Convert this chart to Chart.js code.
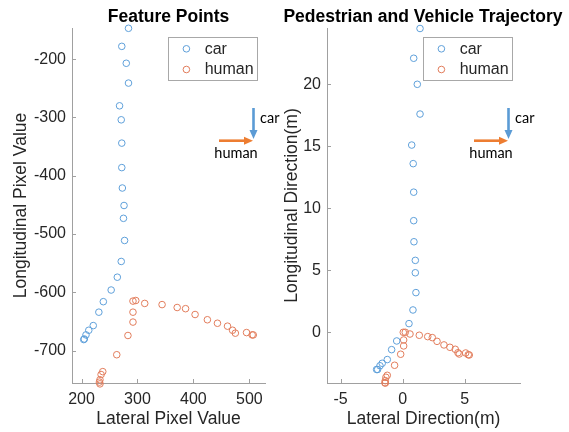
<!DOCTYPE html>
<html><head><meta charset="utf-8">
<script src="https://cdn.jsdelivr.net/npm/chart.js@4/dist/chart.umd.min.js"></script>
<style>
html,body{margin:0;padding:0;background:#fff;overflow:hidden;width:569px;height:432px;position:relative;}
canvas{position:absolute;top:0;}
#c1{left:0px}
#c2{left:276px}
</style></head><body>
<canvas id="c1" width="337" height="432"></canvas>
<canvas id="c2" width="294" height="432"></canvas>
<script>
// ---------------- data ----------------
const seriesNames = ['car', 'human'];

// Left panel: Feature Points (pixel coordinates)
const carPixelX = [284, 272, 280, 284, 268, 271, 272, 272, 273, 276, 275, 277, 271, 264, 253, 239, 231, 221, 213, 208, 204, 205];
const carPixelY = [-147, -178, -207, -241, -280, -304, -344, -386, -421, -451, -473, -511, -547, -574, -596, -616, -634, -657, -665, -673, -681, -680];
const humanPixelX = [233, 232, 233, 235, 238, 263, 283, 292, 292, 292, 297, 313, 344, 371, 386, 403, 425, 443, 461, 470, 475, 495, 505, 507];
const humanPixelY = [-757, -754, -750, -741, -736, -707, -674, -651, -634, -615, -614, -619, -621, -626, -628, -638, -647, -653, -658, -665, -670, -669, -673, -673];

// Right panel: trajectory in metres
const carMetreX = [1.40, 0.89, 1.18, 1.40, 0.73, 0.85, 0.89, 0.89, 0.91, 1.02, 1.02, 1.07, 0.83, 0.51, -0.48, -0.89, -1.24, -1.65, -1.83, -2.02, -2.10];
const carMetreY = [24.5, 22.1, 20.0, 17.6, 15.1, 13.6, 11.3, 9.0, 7.3, 5.8, 4.8, 3.2, 1.8, 0.7, -0.7, -1.4, -2.2, -2.5, -2.7, -3.0, -3.0];
const humanMetreX = [-1.40, -1.43, -1.40, -1.35, -1.24, -0.65, -0.16, 0.08, 0.08, 0.05, 0.21, 0.59, 1.34, 2.02, 2.39, 2.77, 3.33, 3.81, 4.24, 4.46, 4.56, 5.08, 5.29, 5.37];
const humanMetreY = [-4.10, -4.06, -3.90, -3.63, -3.47, -2.66, -1.77, -1.10, -0.62, 0.00, 0.00, -0.14, -0.24, -0.35, -0.43, -0.73, -1.02, -1.21, -1.37, -1.65, -1.75, -1.67, -1.81, -1.83];

// tick labels
const leftXTicks = [200, 300, 400, 500];
const leftYTicks = [-700, -600, -500, -400, -300, -200];
const rightXTicks = [-5, 0, 5];
const rightYTicks = [0, 5, 10, 15, 20];

// axis limits
const leftXRange = [183, 528];
const leftYRange = [-755.5, -146.5];
const rightXRange = [-6.10, 9.46];
const rightYRange = [-4.09, 24.54];

// ---------------- styling ----------------
const FONT = "'Liberation Sans', Arial, Helvetica, sans-serif";
const AXIS_COLOR = '#a0a0a0';
const TEXT_COLOR = '#262626';
const CAR_COLOR = 'rgb(95,160,218)';
const HUMAN_COLOR = 'rgb(226,125,92)';
Chart.defaults.font.family = FONT;
Chart.defaults.color = TEXT_COLOR;

function pts(xs, ys) { return xs.map((x, i) => ({x: x, y: ys[i]})); }

const inwardTicks = {
  id: 'inwardTicks',
  afterDraw(chart) {
    const ctx = chart.ctx, a = chart.chartArea, sx = chart.scales.x, sy = chart.scales.y;
    ctx.save();
    ctx.strokeStyle = AXIS_COLOR; ctx.lineWidth = 1;
    sx.ticks.forEach(t => {
      const px = Math.round(sx.getPixelForValue(t.value)) + 0.5;
      ctx.beginPath(); ctx.moveTo(px, a.bottom); ctx.lineTo(px, a.bottom - 4); ctx.stroke();
    });
    sy.ticks.forEach(t => {
      const py = Math.round(sy.getPixelForValue(t.value)) + 0.5;
      ctx.beginPath(); ctx.moveTo(a.left, py); ctx.lineTo(a.left + 4, py); ctx.stroke();
    });
    ctx.restore();
  }
};

const legendBox = {
  id: 'legendBox',
  afterDraw(chart) {
    const ctx = chart.ctx, a = chart.chartArea;
    const w = 89, h = 43;
    const x0 = Math.round(a.right - 8 - w), y0 = Math.round(a.top + 8.5);
    ctx.save();
    ctx.fillStyle = '#fff';
    ctx.fillRect(x0, y0, w, h);
    ctx.strokeStyle = '#a8a8a8'; ctx.lineWidth = 1;
    ctx.strokeRect(x0 + 0.5, y0 + 0.5, w, h);
    chart.data.datasets.forEach((ds, i) => {
      const cy = y0 + 11.8 + i * 20.7;
      ctx.beginPath(); ctx.arc(x0 + 18.4, cy, 3.3, 0, Math.PI * 2);
      ctx.strokeStyle = ds.borderColor; ctx.lineWidth = 1; ctx.stroke();
      ctx.fillStyle = TEXT_COLOR; ctx.font = '16px ' + FONT;
      ctx.textAlign = 'left'; ctx.textBaseline = 'middle';
      ctx.fillText(ds.label, x0 + 36.7, cy + 0.5);
    });
    ctx.restore();
  }
};

function arrow(ctx, x1, y1, x2, y2, color) {
  const ang = Math.atan2(y2 - y1, x2 - x1), hl = 9, hw = 4;
  const bx = x2 - hl * Math.cos(ang), by = y2 - hl * Math.sin(ang);
  ctx.strokeStyle = color; ctx.fillStyle = color; ctx.lineWidth = 2.6;
  ctx.beginPath(); ctx.moveTo(x1, y1); ctx.lineTo(bx, by); ctx.stroke();
  ctx.beginPath();
  ctx.moveTo(x2, y2);
  ctx.lineTo(bx + hw * Math.sin(ang), by - hw * Math.cos(ang));
  ctx.lineTo(bx - hw * Math.sin(ang), by + hw * Math.cos(ang));
  ctx.closePath(); ctx.fill();
}

const directionNote = {
  id: 'directionNote',
  afterDraw(chart) {
    const ctx = chart.ctx, a = chart.chartArea, r = a.right, t = a.top;
    ctx.save();
    arrow(ctx, r - 11.5, t + 80, r - 11.5, t + 111, '#5B9BD5');
    arrow(ctx, r - 46, t + 112.7, r - 12, t + 112.7, '#ED7D31');
    ctx.fillStyle = '#000';
    ctx.font = "14.5px Lato, 'Open Sans', sans-serif";
    ctx.textBaseline = 'middle';
    ctx.textAlign = 'left';
    ctx.fillText(seriesNames[0], r - 5, t + 90);
    ctx.textAlign = 'center';
    ctx.fillText(seriesNames[1], r - 29, t + 125);
    ctx.restore();
  }
};

function makeChart(id, title, xTitle, yTitle, carPts, humanPts, xr, yr, xt, yt, yAxisW, rightW, yTitlePad) {
  return new Chart(document.getElementById(id), {
    type: 'scatter',
    data: {
      datasets: [
        {label: seriesNames[0], data: carPts, borderColor: CAR_COLOR, backgroundColor: 'rgba(0,0,0,0)',
         pointRadius: 3.3, pointBorderWidth: 1, pointHoverRadius: 3.3, clip: false},
        {label: seriesNames[1], data: humanPts, borderColor: HUMAN_COLOR, backgroundColor: 'rgba(0,0,0,0)',
         pointRadius: 3.3, pointBorderWidth: 1, pointHoverRadius: 3.3, clip: false}
      ]
    },
    options: {
      responsive: false, animation: false, events: [],
      layout: {padding: 0},
      plugins: {
        legend: {display: false}, tooltip: {enabled: false},
        title: {display: true, text: title, color: '#000',
                font: {size: 17.5, weight: 'bold', family: FONT}, padding: {top: 7, bottom: 0}}
      },
      scales: {
        x: {
          type: 'linear', min: xr[0], max: xr[1],
          afterBuildTicks: s => { s.ticks = xt.map(v => ({value: v})); },
          afterFit: s => { s.height = 49; },
          grid: {display: true, drawOnChartArea: false, drawTicks: false},
          border: {display: true, color: AXIS_COLOR, width: 1},
          ticks: {padding: 7, color: TEXT_COLOR, font: {size: 16}},
          title: {display: true, text: xTitle, color: TEXT_COLOR, font: {size: 17.5}, padding: {top: 0, bottom: 2.5}}
        },
        y: {
          type: 'linear', min: yr[0], max: yr[1],
          afterBuildTicks: s => { s.ticks = yt.map(v => ({value: v})); },
          afterFit: s => { s.width = yAxisW; },
          grid: {display: true, drawOnChartArea: false, drawTicks: false},
          border: {display: true, color: AXIS_COLOR, width: 1},
          ticks: {padding: 6, color: TEXT_COLOR, font: {size: 16}},
          title: {display: true, text: yTitle, color: TEXT_COLOR, font: {size: 17.5}, padding: {top: yTitlePad, bottom: 0}}
        },
        spacer: {
          type: 'linear', position: 'right', axis: 'y', min: 0, max: 1,
          afterFit: s => { s.width = rightW; },
          grid: {display: false}, border: {display: false},
          ticks: {display: false}
        }
      }
    },
    plugins: [inwardTicks, legendBox, directionNote]
  });
}

makeChart('c1', 'Feature Points', 'Lateral Pixel Value', 'Longitudinal Pixel Value',
  pts(carPixelX, carPixelY), pts(humanPixelX, humanPixelY),
  leftXRange, leftYRange, leftXTicks, leftYTicks, 72, 72, 10.5);

makeChart('c2', 'Pedestrian and Vehicle Trajectory', 'Lateral Direction(m)', 'Longitudinal Direction(m)',
  pts(carMetreX, carMetreY), pts(humanMetreX, humanMetreY),
  rightXRange, rightYRange, rightXTicks, rightYTicks, 51, 50, 5.5);
</script>
</body></html>
